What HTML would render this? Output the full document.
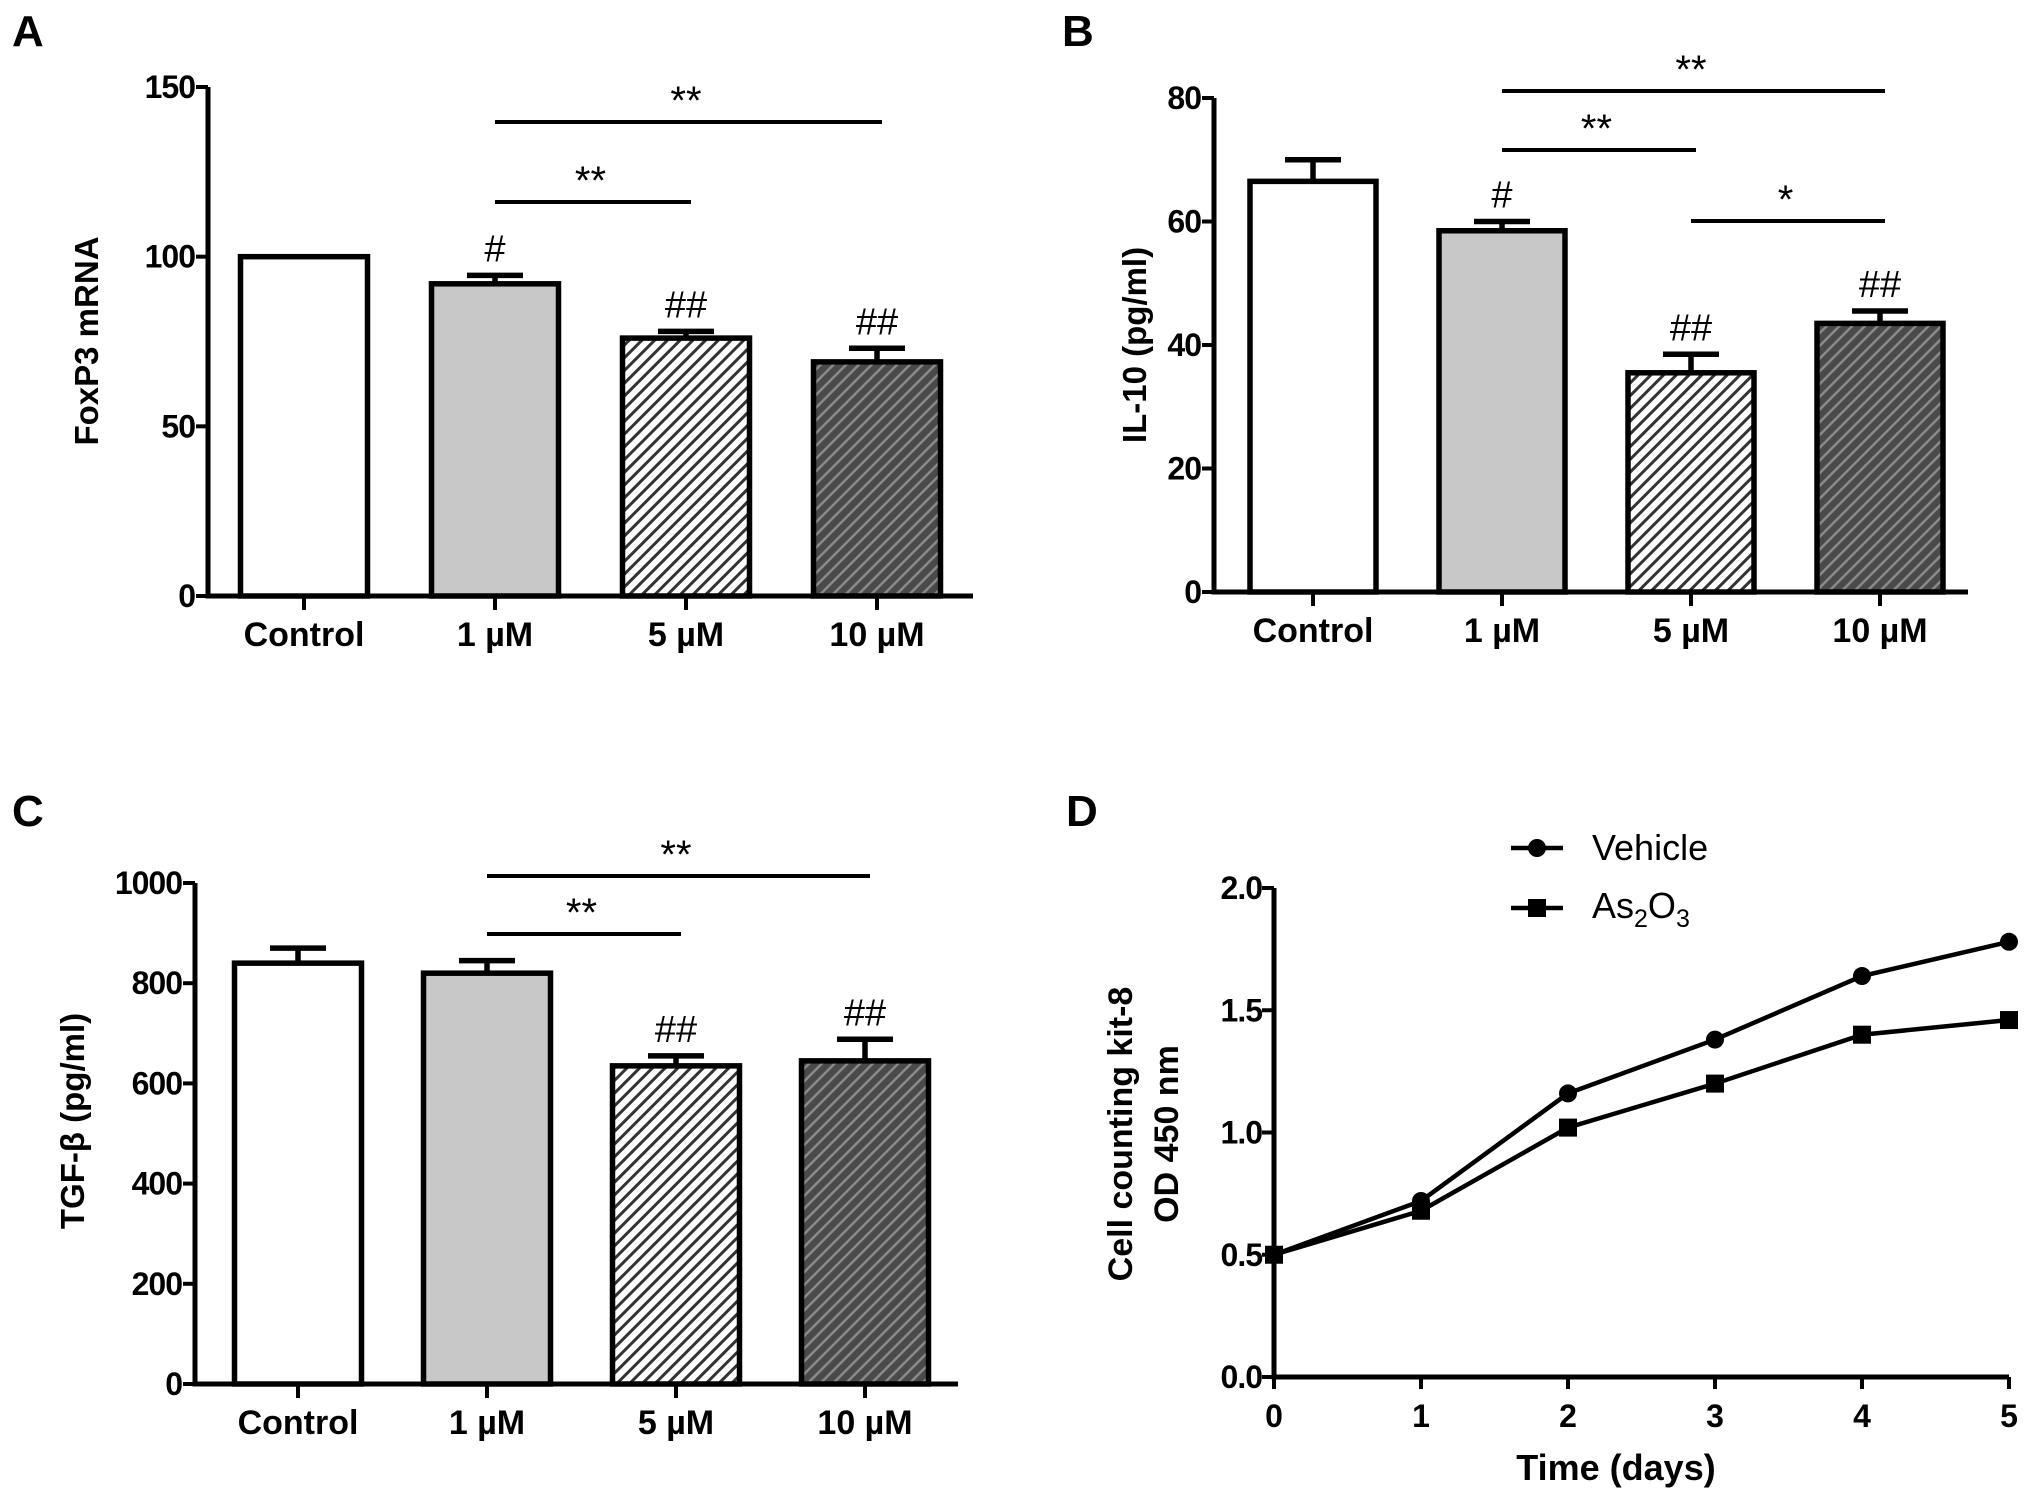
<!DOCTYPE html>
<html><head><meta charset="utf-8"><style>
html,body{margin:0;padding:0;background:#fff;}
svg{display:block;font-family:"Liberation Sans",Arial,sans-serif;}
</style></head><body>
<svg id="fig" width="2031" height="1492" viewBox="0 0 2031 1492" xmlns="http://www.w3.org/2000/svg">
<defs>
<pattern id="hatchLight" patternUnits="userSpaceOnUse" width="9" height="9" patternTransform="rotate(45)">
<rect width="9" height="9" fill="#fff"/><rect width="3" height="9" fill="#333"/></pattern>
<pattern id="hatchDark" patternUnits="userSpaceOnUse" width="9" height="9" patternTransform="rotate(45)">
<rect width="9" height="9" fill="#4a4a4a"/><rect width="2.5" height="9" fill="#8a8a8a"/></pattern>
</defs>
</svg>
<script>
const categories = ["Control","1 µM","5 µM","10 µM"];
const fills = ["#fff","#c8c8c8","url(#hatchLight)","url(#hatchDark)"];
// Panel A
const foxValues = [100, 92, 76, 69];
const foxErrors = [0, 2.5, 2, 4];
const foxTicks = [0, 50, 100, 150];
const foxMarks = ["", "#", "##", "##"];
// Panel B
const il10Values = [66.5, 58.5, 35.5, 43.5];
const il10Errors = [3.5, 1.5, 3, 2];
const il10Ticks = [0, 20, 40, 60, 80];
const il10Marks = ["", "#", "##", "##"];
// Panel C
const tgfValues = [840, 820, 635, 645];
const tgfErrors = [30, 25, 20, 43];
const tgfTicks = [0, 200, 400, 600, 800, 1000];
const tgfMarks = ["", "", "##", "##"];
// Panel D
const days = [0, 1, 2, 3, 4, 5];
const vehicleValues = [0.5, 0.72, 1.16, 1.38, 1.64, 1.78];
const as2o3Values = [0.5, 0.68, 1.02, 1.2, 1.4, 1.46];
const odTicks = [0, 0.5, 1.0, 1.5, 2.0];

const NS = "http://www.w3.org/2000/svg";
const svg = document.getElementById("fig");
function mk(tag, attrs, parent, text){
  const e = document.createElementNS(NS, tag);
  for (const k in attrs) e.setAttribute(k, attrs[k]);
  if (text !== undefined) e.textContent = text;
  (parent || svg).appendChild(e);
  return e;
}

function barPanel(cfg){
  const g = mk("g", {});
  
  
  const ymax = cfg.ticks[cfg.ticks.length-1];
  const y = v => cfg.y0 - (v / ymax) * (cfg.y0 - cfg.yTop);
  const cx = i => cfg.c0 + i * cfg.step;
  const bw = cfg.bw;
  const L = mk("text", {x: cfg.letterX, y: cfg.letterY, "font-size": 44, "font-weight": "bold"}, g, cfg.letter);
  
  
  cfg.values.forEach((v, i) => {
    const x = cx(i) - bw/2;
    if (cfg.errors[i] > 0) {
      const e = mk("path", {d: `M${cx(i)} ${y(v)} V${y(v+cfg.errors[i])} M${cx(i)-28} ${y(v+cfg.errors[i])} H${cx(i)+28}`, stroke: "#000", "stroke-width": 5.5, fill: "none"}, g);
      
      
    }
    const r = mk("rect", {x: x, y: y(v), width: bw, height: cfg.y0 - y(v), fill: fills[i], stroke: "#000", "stroke-width": 5.5}, g);
    
    
    if (cfg.marks[i]) {
      const t = mk("text", {x: cx(i), y: y(v + cfg.errors[i]) - 14, "font-size": 38, "text-anchor": "middle"}, g, cfg.marks[i]);
      
      
    }
    const tk = mk("line", {x1: cx(i), x2: cx(i), y1: cfg.y0, y2: cfg.y0 + 14, stroke: "#000", "stroke-width": 4}, g);
    
    
    const lb = mk("text", {x: cx(i), y: cfg.y0 + 50, "font-size": 34, "font-weight": "bold", "text-anchor": "middle"}, g, categories[i]);
    
    
  });
  const ax = mk("path", {d: `M${cfg.x0} ${cfg.yTop} V${cfg.y0} H${cfg.xEnd}`, stroke: "#000", "stroke-width": 5, fill: "none"}, g);
  
  
  cfg.ticks.forEach(t => {
    const l = mk("line", {x1: cfg.x0 - 12, x2: cfg.x0, y1: y(t), y2: y(t), stroke: "#000", "stroke-width": 4}, g);
    
    
    const tx = mk("text", {x: cfg.x0 - 13, y: y(t) + 11, "font-size": 32, "font-weight": "bold", "text-anchor": "end", "letter-spacing": "-1"}, g, String(t));
    
    
  });
  const yt = mk("text", {x: cfg.titleX, y: cfg.titleY, "font-size": 33, "font-weight": "bold", "text-anchor": "middle", transform: `rotate(-90 ${cfg.titleX} ${cfg.titleY})`}, g, cfg.title);
  
  
  cfg.sig.forEach(s => {
    const l = mk("line", {x1: cx(s[0]), x2: cx(s[1]) + 5, y1: s[2], y2: s[2], stroke: "#000", "stroke-width": 4}, g);
    
    
    const t = mk("text", {x: (cx(s[0]) + cx(s[1])) / 2, y: s[2] - 8, "font-size": 40, "text-anchor": "middle"}, g, s[3]);
    
    
  });
}

barPanel({name:"panel-a-foxp3", letter:"A", letterX:12, letterY:46, values:foxValues, errors:foxErrors, ticks:foxTicks, marks:foxMarks,
  x0:208, xEnd:973, y0:596, yTop:87, c0:304, step:191, bw:127, title:"FoxP3 mRNA", titleX:98, titleY:341,
  sig:[[1,3,122,"**"],[1,2,202,"**"]]});
barPanel({name:"panel-b-il10", letter:"B", letterX:1062, letterY:46, values:il10Values, errors:il10Errors, ticks:il10Ticks, marks:il10Marks,
  x0:1214, xEnd:1968, y0:592, yTop:98, c0:1313, step:189, bw:126, title:"IL-10  (pg/ml)", titleX:1146, titleY:345,
  sig:[[1,3,91,"**"],[1,2,150,"**"],[2,3,221,"*"]]});
barPanel({name:"panel-c-tgfb", letter:"C", letterX:12, letterY:826, values:tgfValues, errors:tgfErrors, ticks:tgfTicks, marks:tgfMarks,
  x0:195, xEnd:958, y0:1384, yTop:883, c0:298, step:189, bw:127, title:"TGF-β (pg/ml)", titleX:84, titleY:1121,
  sig:[[1,3,876,"**"],[1,2,934,"**"]]});

(function(){
  const g = mk("g", {});
  
  
  const X0 = 1274, X1 = 2009, Y0 = 1377, Y1 = 888;
  const xs = d => X0 + (d / 5) * (X1 - X0);
  const ys = v => Y0 - (v / 2) * (Y0 - Y1);
  const L = mk("text", {x: 1066, y: 826, "font-size": 44, "font-weight": "bold"}, g, "D");
  
  
  const ax = mk("path", {d: `M${X0} ${Y1} V${Y0} H${X1}`, stroke: "#000", "stroke-width": 5, fill: "none"}, g);
  
  
  odTicks.forEach(t => {
    const l = mk("line", {x1: X0 - 12, x2: X0, y1: ys(t), y2: ys(t), stroke: "#000", "stroke-width": 4}, g);
    
    
    const tx = mk("text", {x: X0 - 12, y: ys(t) + 11, "font-size": 32, "font-weight": "bold", "text-anchor": "end", "letter-spacing": "-1"}, g, t.toFixed(1));
    
    
  });
  days.forEach(d => {
    const l = mk("line", {x1: xs(d), x2: xs(d), y1: Y0, y2: Y0 + 12, stroke: "#000", "stroke-width": 4}, g);
    
    
    const tx = mk("text", {x: xs(d), y: Y0 + 50, "font-size": 32, "font-weight": "bold", "text-anchor": "middle"}, g, String(d));
    
    
  });
  const xt = mk("text", {x: 1616, y: 1480, "font-size": 36, "font-weight": "bold", "text-anchor": "middle"}, g, "Time (days)");
  
  
  const yt1 = mk("text", {x: 1132, y: 1134, "font-size": 34, "font-weight": "bold", "text-anchor": "middle", transform: "rotate(-90 1132 1134)"}, g, "Cell counting kit-8");
  
  
  const yt2 = mk("text", {x: 1178, y: 1134, "font-size": 34, "font-weight": "bold", "text-anchor": "middle", transform: "rotate(-90 1178 1134)"}, g, "OD 450 nm");
  
  
  function series(vals, shape, name){
    const p = mk("polyline", {points: vals.map((v, i) => xs(days[i]) + "," + ys(v)).join(" "), fill: "none", stroke: "#000", "stroke-width": 4.5}, g);
    
    
    vals.forEach((v, i) => {
      let m;
      if (shape === "circle") m = mk("circle", {cx: xs(days[i]), cy: ys(v), r: 9, fill: "#000"}, g);
      else m = mk("rect", {x: xs(days[i]) - 9, y: ys(v) - 9, width: 18, height: 18, fill: "#000"}, g);
      
      
    });
  }
  series(vehicleValues, "circle", "vehicle");
  series(as2o3Values, "square", "as2o3");
  const lg = mk("g", {}, g);
  
  
  mk("line", {x1: 1511, x2: 1563, y1: 848, y2: 848, stroke: "#000", "stroke-width": 4.5}, lg);
  mk("circle", {cx: 1537, cy: 848, r: 9, fill: "#000"}, lg);
  const t1 = mk("text", {x: 1592, y: 860, "font-size": 36}, lg, "Vehicle");
  
  
  mk("line", {x1: 1511, x2: 1563, y1: 908, y2: 908, stroke: "#000", "stroke-width": 4.5}, lg);
  mk("rect", {x: 1528, y: 899, width: 18, height: 18, fill: "#000"}, lg);
  const t2 = mk("text", {x: 1592, y: 918, "font-size": 36}, lg);
  
  
  t2.innerHTML = 'As<tspan font-size="25" dy="9">2</tspan><tspan dy="-9">O</tspan><tspan font-size="25" dy="9">3</tspan>';
})();
</script>
</body></html>
